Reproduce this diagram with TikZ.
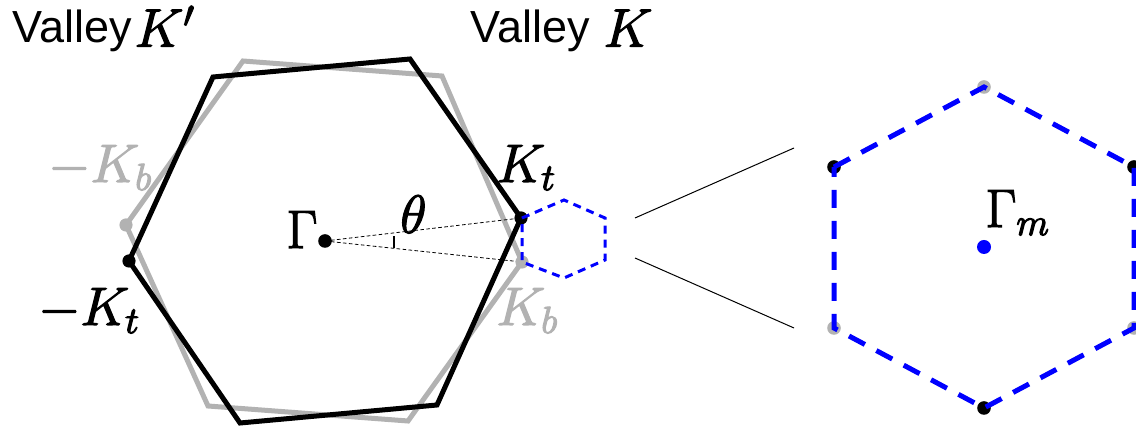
\RequirePackage{fix-cm}
\documentclass[tikz,border=0pt]{standalone}
\usepackage[no-math]{fontspec}
\newfontfamily\vfont{Liberation Sans}
\definecolor{lgray}{RGB}{178,178,178}
\newcommand{\thk}[1]{\special{pdf:literal direct 2 Tr 0.6 w}#1\special{pdf:literal direct 0 Tr}}
\newcommand{\mymath}[1]{{\fontsize{27}{30}\selectfont\thk{$#1$}}}
\begin{document}
\begin{tikzpicture}[x=0.5pt,y=-0.5pt,
  bhex/.style={line width=2.5pt, draw=black, line join=miter},
  ghex/.style={line width=2.5pt, draw=lgray, line join=miter},
  bluedash/.style={line width=2.5pt, draw=blue, dash pattern=on 9pt off 6.5pt},
  smalldash/.style={line width=1.5pt, draw=blue, dash pattern=on 4pt off 3pt},
  guide/.style={line width=0.4pt, dash pattern=on 1.8pt off 1.2pt},
  zoomline/.style={line width=0.5pt},
  lbl/.style={inner sep=0pt, anchor=base west, font=\fontsize{27}{30}\selectfont},
  vlbl/.style={inner sep=0pt, anchor=base west, font=\vfont\fontsize{22.5}{26}\selectfont},
]
\useasboundingbox (0,0) rectangle (1136,431);
\clip (0,0) rectangle (1136,431);

% centre
\coordinate (G) at (325,241);
% black hexagon (top layer)
\coordinate (Kt) at (521,218);
\coordinate (b2) at (410,59);
\coordinate (b3) at (213,77);
\coordinate (mKt) at (129,261);
\coordinate (b5) at (240,423);
\coordinate (b6) at (437,405);
% gray hexagon (bottom layer)
\coordinate (Kb) at (522,262);
\coordinate (g2) at (442,76);
\coordinate (g3) at (243,61);
\coordinate (mKb) at (126,225);
\coordinate (g5) at (208,406);
\coordinate (g6) at (408,421);
% small blue hexagon
\coordinate (s1) at (522,218);
\coordinate (s2) at (564,200);
\coordinate (s3) at (605,218);
\coordinate (s4) at (605,260);
\coordinate (s5) at (564,278);
\coordinate (s6) at (522,262);
% big blue hexagon
\coordinate (B1) at (834,167);
\coordinate (B2) at (984,87);
\coordinate (B3) at (1134,167);
\coordinate (B4) at (1134,328);
\coordinate (B5) at (984,408);
\coordinate (B6) at (834,328);
\coordinate (Gm) at (984,247);
% zoom lines
\coordinate (z1a) at (635,218);
\coordinate (z1b) at (794,148);
\coordinate (z2a) at (635,258);
\coordinate (z2b) at (794,328);
% angle tick
\coordinate (t1) at (394,236);
\coordinate (t2) at (394,248);

\draw[ghex] (Kb) -- (g2) -- (g3) -- (mKb) -- (g5) -- (g6) -- cycle;
\draw[bhex] (Kt) -- (b2) -- (b3) -- (mKt) -- (b5) -- (b6) -- cycle;

\draw[guide] (G) -- (Kt);
\draw[guide] (G) -- (Kb);
\draw[line width=1.3pt] (t1) -- (t2);

\draw[zoomline] (z1a) -- (z1b);
\draw[zoomline] (z2a) -- (z2b);

\fill[black] (G) circle (3.4pt);
\fill[black] (Kt) circle (3.3pt);
\fill[black] (mKt) circle (3.3pt);
\fill[lgray] (Kb) circle (3.3pt);
\fill[lgray] (mKb) circle (3.3pt);

\fill[black] (B1) circle (3.4pt);
\fill[black] (B3) circle (3.4pt);
\fill[black] (B5) circle (3.4pt);
\fill[lgray] (B2) circle (3.4pt);
\fill[lgray] (B4) circle (3.4pt);
\fill[lgray] (B6) circle (3.4pt);
\fill[blue] (Gm) circle (3.5pt);

\draw[smalldash] (s1) -- (s2) -- (s3) -- (s4) -- (s5) -- (s6) -- cycle;
\draw[bluedash] (B1) -- (B2) -- (B3) -- (B4) -- (B5) -- (B6) -- cycle;

% labels
\node[vlbl] (vkp) at (12,43) {Valley\kern1.5pt\raisebox{-1.8pt}{\mymath{K'}}};
\node[vlbl] (vk) at (470,43) {Valley\kern7pt\raisebox{-1.8pt}{\mymath{K}}};
\node[lbl] (lG) at (286,248) {\thk{$\Gamma$}};
\node[lbl] (lth) at (400,233) {\thk{$\theta$}};
\node[lbl] (lKt) at (496,182) {\thk{$K_t$}};
\node[lbl, text=lgray] (lKb) at (496,325) {\thk{$K_b$}};
\node[lbl, text=lgray] (lmKb) at (48,182) {\thk{$-K_b$}};
\node[lbl] (lmKt) at (38,325) {\thk{$-K_t$}};
\node[lbl] (lGm) at (985,227) {\thk{$\Gamma_m$}};
\end{tikzpicture}
\end{document}
